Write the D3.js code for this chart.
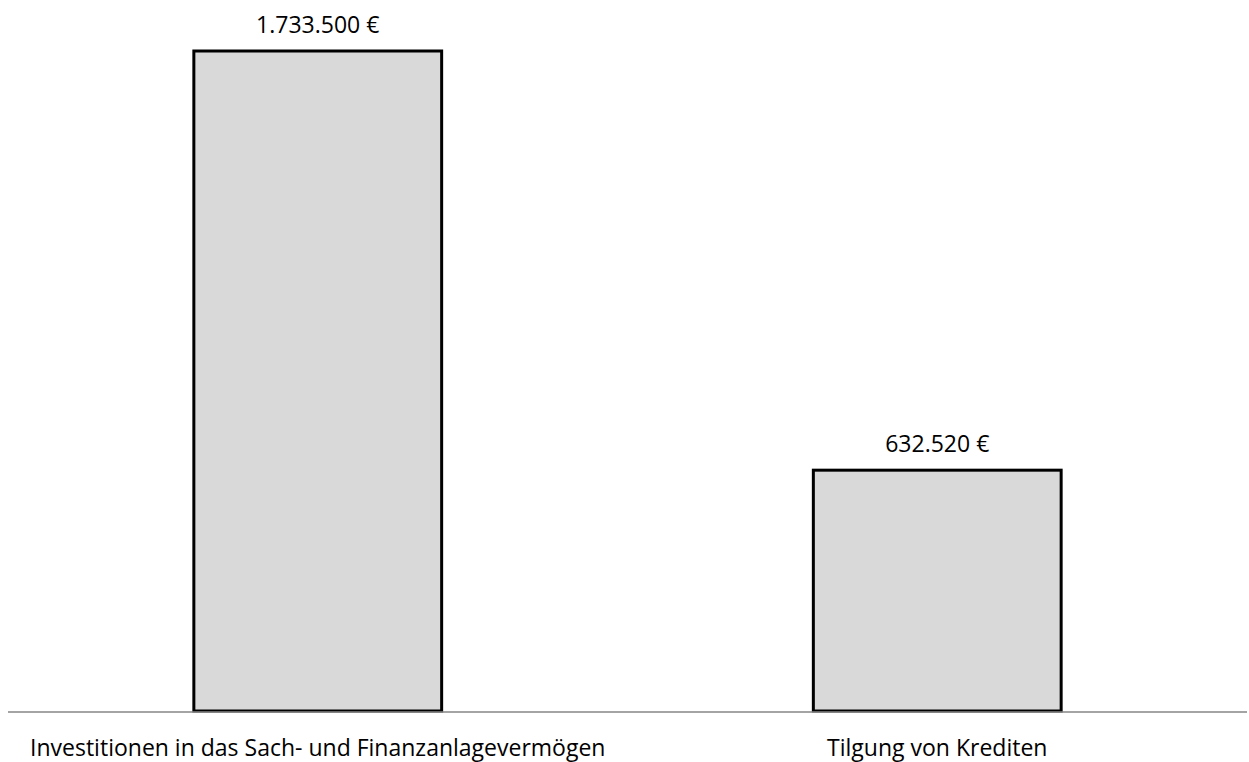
<!DOCTYPE html>
<html><head><meta charset="utf-8">
<script src="https://cdn.jsdelivr.net/npm/d3@7"></script>
<style>html,body{margin:0;padding:0;background:#fff;}</style>
</head><body>
<script>
const categories = ["Investitionen in das Sach- und Finanzanlagevermögen", "Tilgung von Krediten"];
const values = [1733500, 632520];
const valueLabels = ["1.733.500 €", "632.520 €"];

const W = 1249, H = 762;
const svg = d3.select("body").append("svg").attr("width", W).attr("height", H);
const font = "'Open Sans', sans-serif";

const x = d3.scaleBand().domain(categories).range([8, 1247]).paddingInner(0.6).paddingOuter(0.3);
const y = d3.scaleLinear().domain([0, d3.max(values)]).range([711, 51]);

const data = categories.map((c, i) => ({c, v: values[i], l: valueLabels[i]}));

svg.selectAll("rect.bar").data(data).join("rect").attr("class", "bar")
  .attr("x", d => x(d.c)).attr("width", x.bandwidth())
  .attr("y", d => y(d.v)).attr("height", d => y(0) - y(d.v))
  .attr("fill", "#d9d9d9").attr("stroke", "#000").attr("stroke-width", 3);

svg.append("line").attr("x1", 8).attr("x2", 1247).attr("y1", y(0) + 1).attr("y2", y(0) + 1)
  .attr("stroke", "#868686").attr("stroke-width", 1.5);

svg.selectAll("text.val").data(data).join("text").attr("class", "val")
  .attr("x", d => x(d.c) + x.bandwidth() / 2).attr("y", d => y(d.v) - 18)
  .attr("text-anchor", "middle").attr("font-family", font).attr("font-size", 23)
  .attr("fill", "#000").text(d => d.l);

svg.selectAll("text.cat").data(data).join("text").attr("class", "cat")
  .attr("x", d => x(d.c) + x.bandwidth() / 2).attr("y", 756)
  .attr("text-anchor", "middle").attr("font-family", font).attr("font-size", 23)
  .attr("fill", "#000").text(d => d.c);
</script>
</body></html>
